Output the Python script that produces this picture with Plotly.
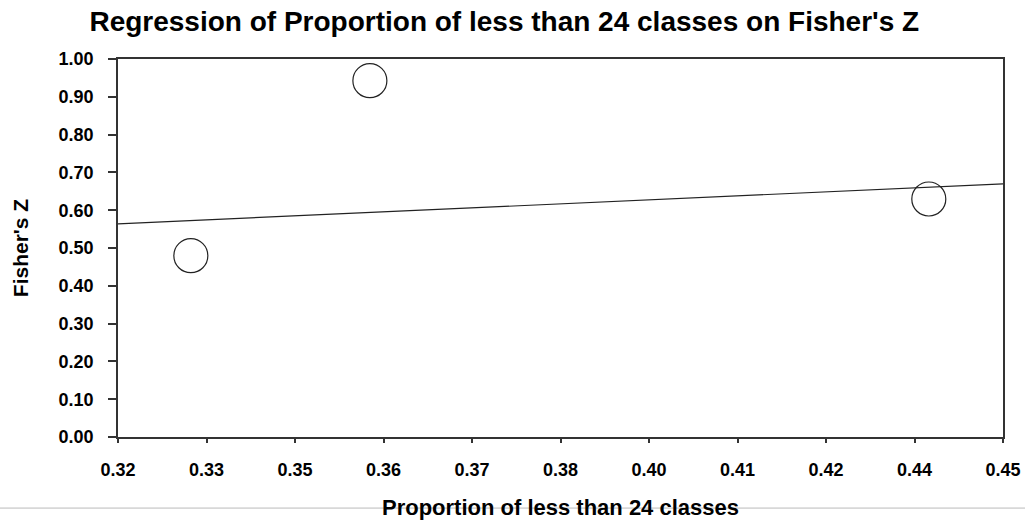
import numpy as np
import plotly.graph_objects as go

# Observed values
proportion = [0.3307, 0.3570, 0.4391]
fisher_z = [0.4796, 0.9426, 0.6296]

# Fitted regression line (intercept, slope)
fit_intercept = 0.303
fit_slope = 0.815

# Axis ticks
x_tick_vals = list(np.linspace(0.32, 0.45, 11))
x_tick_text = ["0.32", "0.33", "0.35", "0.36", "0.37", "0.38",
               "0.40", "0.41", "0.42", "0.44", "0.45"]
y_tick_vals = [i / 10 for i in range(11)]
y_tick_text = [f"{v:.2f}" for v in y_tick_vals]

x_min, x_max = 0.32, 0.45
line_x = [x_min, x_max]
line_y = [fit_intercept + fit_slope * v for v in line_x]

FONT = "Liberation Sans, Arial, sans-serif"

fig = go.Figure()
fig.add_trace(go.Scatter(
    x=line_x, y=line_y, mode="lines",
    line=dict(color="#222222", width=1.2),
    hoverinfo="skip", showlegend=False,
))
fig.add_trace(go.Scatter(
    x=proportion, y=fisher_z, mode="markers",
    marker=dict(size=34, color="rgba(0,0,0,0)",
                line=dict(color="#222222", width=1.2)),
    showlegend=False,
))

fig.update_layout(
    width=1025, height=520,
    margin=dict(l=118, r=22, t=59, b=83),
    paper_bgcolor="white", plot_bgcolor="white",
    font=dict(family=FONT, color="black"),
    title=dict(
        text="<b>Regression of Proportion of less than 24 classes on Fisher's Z</b>",
        x=0.492, xanchor="center", xref="container",
        y=0.96, yanchor="middle", yref="container",
        font=dict(size=28, family=FONT, color="black"),
    ),
    xaxis=dict(
        range=[x_min, x_max], automargin=False,
        tickmode="array", tickvals=x_tick_vals, ticktext=x_tick_text,
        ticks="outside", ticklen=4, tickwidth=1.5, tickcolor="#333333",
        showline=True, linecolor="#333333", linewidth=1.5, mirror=True,
        showgrid=False, zeroline=False,
        tickfont=dict(size=18, family=FONT, color="black", weight="bold"),
        ticklabelstandoff=12,
        title=dict(text="<b>Proportion of less than 24 classes</b>",
                   font=dict(size=22, family=FONT, color="black"),
                   standoff=21),
    ),
    yaxis=dict(
        range=[0, 1.0], automargin=False,
        tickmode="array", tickvals=y_tick_vals, ticktext=y_tick_text,
        ticks="outside", ticklen=8, tickwidth=1.5, tickcolor="#333333",
        showline=True, linecolor="#333333", linewidth=1.5, mirror=True,
        showgrid=False, zeroline=False,
        tickfont=dict(size=18, family=FONT, color="black", weight="bold"),
        ticklabelstandoff=11,
        title=dict(text="<b>Fisher's Z</b>",
                   font=dict(size=21, family=FONT, color="black"),
                   standoff=24),
    ),
)

# Thin gray frame line along the bottom edge of the page
fig.add_shape(type="line", xref="paper", yref="paper",
              x0=-0.2, x1=1.1, y0=-0.188, y1=-0.188,
              line=dict(color="#bbbbbb", width=1))

fig.write_html("out.html")
